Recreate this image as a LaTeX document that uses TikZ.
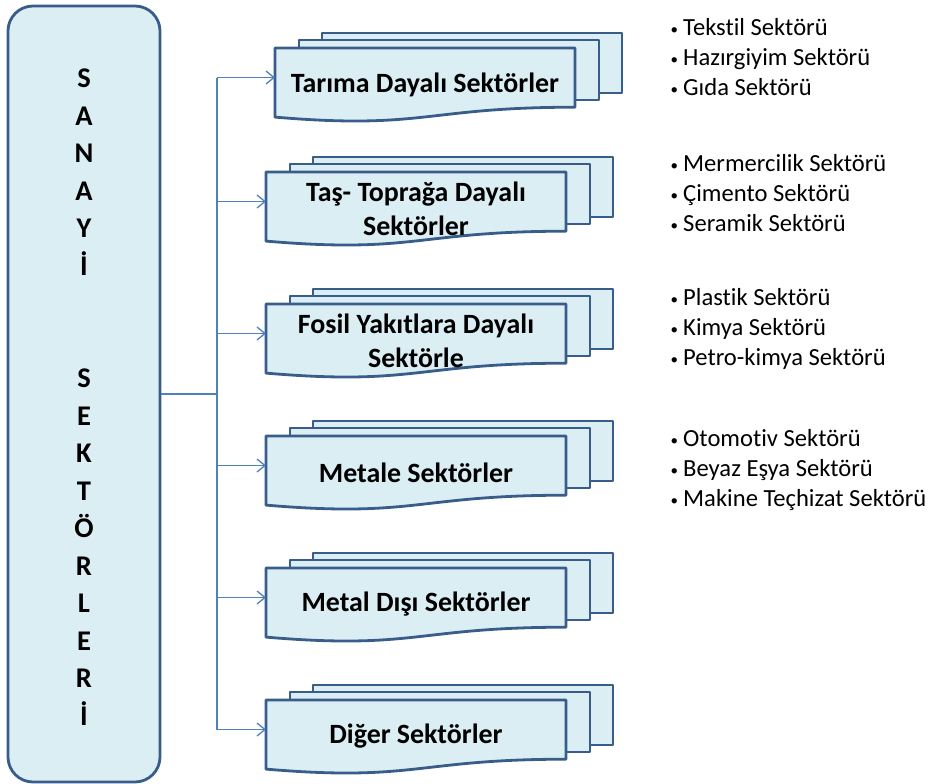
\documentclass[tikz,border=0pt]{standalone}
\usepackage{fontspec}
\setmainfont[Ligatures=NoCommon]{Carlito}
\usetikzlibrary{arrows.meta}

\newcommand{\sektorbox}[4]{%
  \begin{scope}[shift={(#2,#3)}]
    \draw[docline] (47,-15) rectangle (347,45);
    \draw[docline] (24,-8) rectangle (324,52);
    \draw[docline] (0,0) -- (300,0) -- (300,59.2) .. controls (150,59.2) and (150,81.9) .. (0,69.1) -- cycle;
    \coordinate (#1-in) at (0,29.5);
    \node[doctext] (#1) at (150,36.5) {#4};
  \end{scope}}

\begin{document}
\begin{tikzpicture}[x=1pt,y=-1pt,
  docline/.style={draw=boxLine,fill=boxFill,line width=2.8pt,line join=round},
  doctext/.style={font=\fontsize{27.9}{34}\selectfont\bfseries,align=center},
  harf/.style={font=\fontsize{28.5}{34}\selectfont\bfseries,anchor=base,inner sep=0pt},
  madde/.style={font=\fontsize{24.6}{30}\selectfont,anchor=base west,inner sep=0pt},
  conn/.style={draw=connLine,line width=1.3pt},
  ok/.style={->,>={Straight Barb[length=8pt,width=13pt]}}]
\definecolor{boxLine}{RGB}{56,93,138}
\definecolor{boxFill}{RGB}{219,238,244}
\definecolor{connLine}{RGB}{79,129,189}
\useasboundingbox (0,0) rectangle (934,784);
\node[draw=boxLine,fill=boxFill,line width=2.8pt,rounded corners=25pt,minimum width=152pt,minimum height=776pt,inner sep=0pt] (sanayi) at (84,394) {};
\foreach \l [count=\i from 0] in {S,A,N,A,Y,İ}
  \node[harf] (ust\i) at (84,87.5+37.5*\i) {\l};
\foreach \l [count=\i from 0] in {S,E,K,T,Ö,R,L,E,R,İ}
  \node[harf] (alt\i) at (84,387.5+37.5*\i) {\l};
\sektorbox{tarim}{275}{48}{Tarıma Dayalı Sektörler}
\sektorbox{tas}{266}{172}{Taş- Toprağa Dayalı\\Sektörler}
\sektorbox{fosil}{266}{304}{Fosil Yakıtlara Dayalı\\Sektörle}
\sektorbox{metale}{266}{436}{Metale Sektörler}
\sektorbox{metaldisi}{266}{568}{Metal Dışı Sektörler}
\sektorbox{diger}{266}{700}{Diğer Sektörler}
\coordinate (kol) at (217,394);
\draw[conn] (sanayi.east) -- (kol);
\draw[conn] (kol |- tarim-in) -- (kol |- diger-in);
\foreach \n in {tarim,tas,fosil,metale,metaldisi,diger}
  \draw[conn,ok] (kol |- \n-in) -- (\n-in);
\foreach \y/\t [count=\i] in {28/Tekstil Sektörü,58/Hazırgiyim Sektörü,88/Gıda Sektörü,164/Mermercilik Sektörü,194/Çimento Sektörü,224/Seramik Sektörü,298/Plastik Sektörü,328/Kimya Sektörü,358/Petro-kimya Sektörü,439/Otomotiv Sektörü,469/Beyaz Eşya Sektörü,499/Makine Teçhizat Sektörü}
  \node[madde] (madde\i) at (683,\y+7.7) {\llap{\raisebox{1.5pt}{\fontsize{15}{15}\selectfont•}\hspace{5pt}}\t};
\end{tikzpicture}
\end{document}
